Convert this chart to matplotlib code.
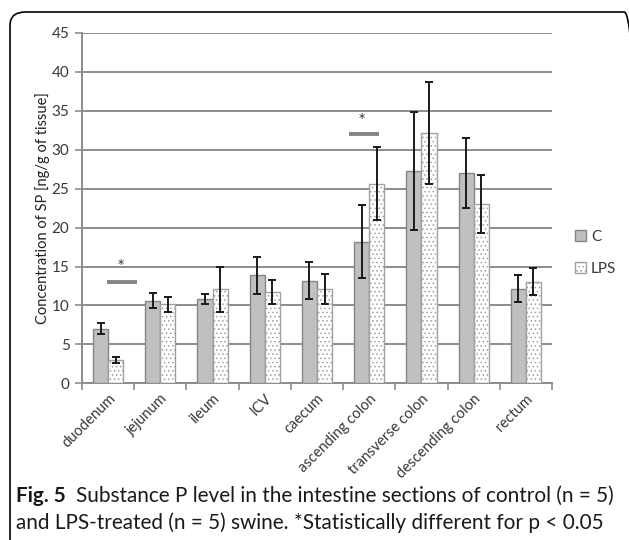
import matplotlib
matplotlib.use("Agg")
import matplotlib.pyplot as plt
import numpy as np
from matplotlib.patches import FancyBboxPatch, Patch

categories = ["duodenum", "jejunum", "ileum", "ICV", "caecum", "ascending colon",
              "transverse colon", "descending colon", "rectum"]
c_vals = [7.0, 10.6, 10.85, 13.85, 13.2, 18.2, 27.25, 27.0, 12.15]
c_err = [0.7, 0.95, 0.6, 2.35, 2.4, 4.65, 7.6, 4.45, 1.7]
lps_vals = [3.0, 10.15, 12.1, 11.75, 12.1, 25.65, 32.15, 23.05, 13.05]
lps_err = [0.35, 0.95, 2.9, 1.55, 1.9, 4.65, 6.55, 3.75, 1.7]
yticks = [0, 5, 10, 15, 20, 25, 30, 35, 40, 45]
# significance markers: (x start, x end, line y, star x, star y)
sig_lines = [(-0.03, 0.55, 13.0, 0.25, 15.2), (4.62, 5.19, 32.0, 4.86, 34.0)]

tick_font = "Lato"
cap_font = "Lato"
txt_col = "#383838"
grid_col = "#8c8c8c"

plt.rcParams["hatch.linewidth"] = 0.6

fig = plt.figure(figsize=(6.29, 5.40), dpi=100)

# rounded frame
frame = FancyBboxPatch((10 / 629, 1 - 560 / 540), (640 - 10) / 629, (560 - 12) / 540,
                       boxstyle="round,pad=0,rounding_size=0.025",
                       transform=fig.transFigure, fill=False, edgecolor="black",
                       linewidth=1.2, clip_on=True)
fig.patches.append(frame)

ax = fig.add_axes([82 / 629, 1 - 383.3 / 540, 470 / 629, 350.3 / 540])
x = np.arange(len(categories))
w = 0.29
ax.bar(x - w / 2, c_vals, width=w, color="#c0c0c0", edgecolor="#858585", linewidth=1.0, zorder=3)
ax.bar(x + w / 2, lps_vals, width=w, color="white", edgecolor="#a0a0a0", hatch="....",
       linewidth=1.0, zorder=3)
ax.errorbar(x - w / 2, c_vals, yerr=c_err, fmt="none", ecolor="#1a1a1a", elinewidth=1.4,
            capsize=2.8, capthick=1.4, zorder=4)
ax.errorbar(x + w / 2, lps_vals, yerr=lps_err, fmt="none", ecolor="#1a1a1a", elinewidth=1.4,
            capsize=2.8, capthick=1.4, zorder=4)

for x0, x1, ly, sx, sy in sig_lines:
    ax.plot([x0, x1], [ly, ly], color="#858585", linewidth=2.8, solid_capstyle="butt", zorder=4)
    ax.text(sx, sy, "*", ha="center", va="center", fontsize=9, color="#303030",
            family="DejaVu Sans", zorder=4)

ax.set_xlim(-0.5, len(categories) - 0.5)
ax.set_ylim(0, 45)
ax.set_yticks(yticks)
ax.set_yticklabels([str(v) for v in yticks], fontsize=11, color=txt_col, family=tick_font)
ax.yaxis.grid(True, color=grid_col, linewidth=1.4, zorder=0)
ax.set_axisbelow(True)
ax.set_xticks(x)
ax.set_xticklabels(categories, rotation=45, ha="right", rotation_mode="anchor",
                   fontsize=10.5, color=txt_col, family=tick_font)
ax.tick_params(axis="x", length=0, pad=6)
ax.set_xticks(np.arange(-0.5, len(categories)), minor=True)
ax.tick_params(axis="x", which="minor", length=5, color=grid_col, width=1.2)
ax.tick_params(axis="y", length=5, color=grid_col, width=1.2, pad=4)
for s in ["top", "right"]:
    ax.spines[s].set_visible(False)
for s in ["left", "bottom"]:
    ax.spines[s].set_color(grid_col)
    ax.spines[s].set_linewidth(1.4)
ax.set_ylabel("Concentration of SP [ng/g of tissue]", fontsize=10.5, color="#202020",
              family=tick_font, labelpad=1.5)

handles = [Patch(facecolor="#c0c0c0", edgecolor="#858585", label="C"),
           Patch(facecolor="white", edgecolor="#a0a0a0", hatch="....", label="LPS")]
fig.legend(handles=handles, loc="center left", bbox_to_anchor=(575 / 629, 1 - 253 / 540),
           frameon=False, handlelength=0.75, handleheight=0.75, borderpad=0,
           borderaxespad=0, handletextpad=0.3, labelspacing=1.15,
           prop={"family": tick_font, "size": 11}, labelcolor=txt_col)

# caption: scale the font so that the first line spans the reference width
renderer = fig.canvas.get_renderer()
line1_rest = "Substance P level in the intestine sections of control (n = 5)"
line2 = "and LPS-treated (n = 5) swine. *Statistically different for p < 0.05"
fs = 13.0
t1 = fig.text(16 / 629, 1 - 496 / 540, "Fig. 5", fontsize=fs, fontweight="bold",
              family=cap_font, va="center", color="#1a1a1a")
t2 = fig.text(0, 1 - 496 / 540, line1_rest, fontsize=fs, family=cap_font, va="center",
              color="#1a1a1a")
for _ in range(3):
    b1 = t1.get_window_extent(renderer=renderer)
    t2.set_x((b1.x1 + 0.7 * fs) / fig.bbox.width)
    b2 = t2.get_window_extent(renderer=renderer)
    total = b2.x1 - b1.x0
    fs = fs * (599.0 / total)
    t1.set_fontsize(fs)
    t2.set_fontsize(fs)
b1 = t1.get_window_extent(renderer=renderer)
t2.set_x((b1.x1 + 0.7 * fs) / fig.bbox.width)
fig.text(16 / 629, 1 - 523 / 540, line2, fontsize=fs, family=cap_font, va="center",
         color="#1a1a1a")

fig.savefig("out.png", dpi=100)
